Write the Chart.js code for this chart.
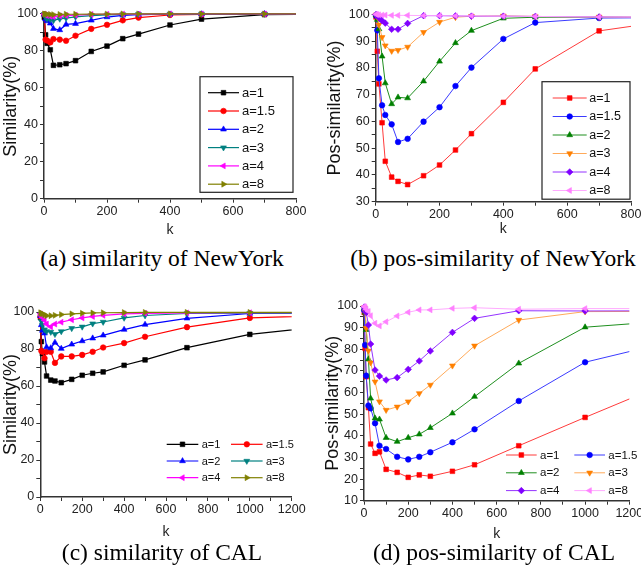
<!DOCTYPE html>
<html>
<head>
<meta charset="utf-8">
<script src="https://cdn.jsdelivr.net/npm/chart.js@4.4.1/dist/chart.umd.min.js"></script>
<style>
html, body { margin: 0; padding: 0; background: #fff; overflow: hidden; width: 641px; height: 567px; }
.panel { position: absolute; }
.cap { position: absolute; font-family: "Liberation Serif", "Times New Roman", serif; font-size: 23.5px; color: #000; white-space: nowrap; transform: translate(-50%, -50%); }
</style>
</head>
<body>
<div class="panel" style="left:0;top:0;width:320px;height:240px"><canvas id="chartA"></canvas></div>
<div class="panel" style="left:320px;top:0;width:330px;height:240px"><canvas id="chartB"></canvas></div>
<div class="panel" style="left:0;top:280px;width:320px;height:270px"><canvas id="chartC"></canvas></div>
<div class="panel" style="left:320px;top:280px;width:340px;height:270px"><canvas id="chartD"></canvas></div>
<div class="cap" style="left:162px;top:258px">(a) similarity of NewYork</div>
<div class="cap" style="left:493px;top:258px">(b) pos-similarity of NewYork</div>
<div class="cap" style="left:162px;top:552px">(c) similarity of CAL</div>
<div class="cap" style="left:494px;top:552px">(d) pos-similarity of CAL</div>
<script>
// k values (last point lies past the right edge of each axis)
const kNY = [1, 5, 10, 20, 30, 50, 70, 100, 150, 200, 250, 300, 400, 500, 700, 1000];
const kCAL = [1, 5, 10, 20, 30, 50, 70, 100, 150, 200, 250, 300, 400, 500, 700, 1000, 1500];
const seriesLabels = ['a=1', 'a=1.5', 'a=2', 'a=3', 'a=4', 'a=8'];

// (a) similarity of NewYork
const simNY_1  = [98, 88.6, 84, 80.5, 72.1, 72.4, 73.0, 74.6, 79.6, 82.5, 86.5, 89.0, 93.9, 97.1, 99.5, 99.9];
const simNY_15 = [99.6, 86, 85.5, 84.5, 86.3, 86, 85.4, 88.1, 91.8, 94, 96.4, 97.9, 99.3, 99.6, 99.8, 99.9];
const simNY_2  = [99.5, 97, 96, 94.8, 91.9, 91.2, 94.2, 94.6, 96.4, 98.2, 99.1, 99.5, 99.7, 99.8, 99.9, 99.9];
const simNY_3  = [99.7, 98, 97.2, 96.9, 96.4, 97.2, 97.6, 98.3, 99.0, 99.4, 99.6, 99.7, 99.8, 99.9, 99.9, 99.9];
const simNY_4  = [99.8, 99.2, 99, 98.6, 98.4, 98.8, 99, 99.2, 99.6, 99.7, 99.8, 99.8, 99.9, 99.9, 99.9, 99.9];
const simNY_8  = [99.9, 99.8, 99.7, 99.6, 99.5, 99.6, 99.7, 99.7, 99.8, 99.8, 99.9, 99.9, 99.9, 99.9, 99.9, 100];

// (b) pos-similarity of NewYork
const posNY_1  = [99, 86.2, 74.0, 59.5, 45.1, 39.2, 37.6, 36.4, 39.7, 43.7, 49.3, 55.4, 67.1, 79.6, 93.8, 98.9];
const posNY_15 = [99.5, 94, 76.1, 66.0, 62.4, 58.9, 52.3, 53.5, 59.9, 65.3, 73.2, 80.1, 90.8, 96.9, 98.6, 98.8];
const posNY_2  = [99.7, 98, 94.5, 84.3, 74.3, 66.5, 69.0, 68.7, 75.0, 82.4, 89.3, 93.9, 98.5, 98.9, 98.9, 98.7];
const posNY_3  = [99.8, 99, 96.1, 91.4, 88.3, 86.3, 86.6, 87.8, 93.3, 97.1, 98.9, 99.3, 99.4, 99.2, 99.0, 98.8];
const posNY_4  = [99.9, 99.5, 98.7, 97.6, 96.7, 94.4, 94.4, 96.6, 99.5, 99.5, 99.4, 99.3, 99.3, 99.2, 99.0, 98.8];
const posNY_8  = [100, 99.9, 99.8, 99.7, 99.7, 99.6, 99.6, 99.6, 99.5, 99.5, 99.4, 99.4, 99.3, 99.2, 99.0, 98.9];

// (c) similarity of CAL
const simCAL_1  = [97, 84, 77.5, 73, 65.4, 63.2, 62.7, 61.8, 63.6, 65.8, 66.9, 67.6, 71.2, 74.1, 80.7, 87.9, 93.9];
const simCAL_15 = [97.5, 79, 78.5, 75, 78.5, 78.5, 72.5, 76, 76, 76.8, 78.5, 80.8, 83.2, 86.6, 91.8, 96.8, 98.5];
const simCAL_2  = [98, 93, 90, 88.5, 81, 80.5, 83.5, 80.2, 82.5, 84.3, 85.8, 87.4, 90.5, 93.2, 96.6, 99.2, 99.5];
const simCAL_3  = [98.5, 95, 93, 90.5, 89.5, 89.2, 88, 89.5, 91.2, 92, 93.7, 94.6, 96.8, 98.1, 99.2, 99.4, 99.5];
const simCAL_4  = [99, 98, 97, 95.5, 93.5, 92, 93.5, 94.5, 95.8, 96.8, 97.6, 98.2, 99, 99.3, 99.5, 99.6, 99.6];
const simCAL_8  = [99.6, 99.3, 99, 98.5, 98, 98, 98.2, 98.6, 99, 99.3, 99.5, 99.6, 99.7, 99.8, 99.8, 99.8, 99.8];

// (d) pos-similarity of CAL
const posCAL_1  = [97, 80.4, 67.3, 53, 36.2, 31.9, 32.6, 24.5, 23.1, 20.8, 21.9, 21.3, 23.6, 26.6, 35.4, 48.5, 69.8];
const posCAL_15 = [98, 82, 67.8, 54, 52.7, 45.8, 35.4, 33.9, 30.3, 29.1, 30.3, 32.4, 37, 43, 56.1, 74, 86.3];
const posCAL_2  = [99, 97, 89, 75.4, 57.3, 48.1, 47.6, 39.1, 37.3, 39.1, 40.7, 43.7, 50.4, 58.1, 73.5, 90.2, 94];
const posCAL_3  = [99.3, 97.5, 89.7, 79.3, 73.8, 65, 55.8, 51.9, 53.4, 55.8, 59.6, 63.5, 72.4, 81.6, 93.5, 97.4, 97.6];
const posCAL_4  = [99.5, 98.5, 97, 91.2, 82.4, 70.4, 67.6, 65.8, 66.9, 70.7, 74.6, 79.2, 87.8, 94.3, 97.8, 97.7, 97.8];
const posCAL_8  = [99.8, 99.5, 98.5, 97.5, 95.5, 92, 90.8, 92.7, 95.4, 97.1, 98.2, 98.2, 98.9, 99.2, 98.5, 98.8, 98.8];

// tick labels
const xLabelsNY = [0, 200, 400, 600, 800];
const xLabelsCAL = [0, 200, 400, 600, 800, 1000, 1200];
const yLabelsSim = [0, 20, 40, 60, 80, 100];
const yLabelsPosNY = [30, 40, 50, 60, 70, 80, 90, 100];
const yLabelsPosCAL = [10, 20, 30, 40, 50, 60, 70, 80, 90, 100];

// styles
const FONT = '"Liberation Sans", Arial, sans-serif';
const simColors = ['#000000', '#ff0000', '#0000ff', '#008080', '#ff00ff', '#808000'];
const posColors = ['#ff0000', '#0000ff', '#008000', '#ff8000', '#8000ff', '#ff80ff'];
const posLineColors = ['#ff3b3b', '#3b3bff', '#1f8f1f', '#ffaa5a', '#9433ff', '#ffaaff'];
const simMarkers = [
    { style: 'rect', rot: 0, r: 3.3 },
    { style: 'circle', rot: 0, r: 2.8 },
    { style: 'triangle', rot: 0, r: 3.4 },
    { style: 'triangle', rot: 180, r: 3.4 },
    { style: 'triangle', rot: -90, r: 3.4 },
    { style: 'triangle', rot: 90, r: 3.4 }
];
const posMarkers = [
    { style: 'rect', rot: 0, r: 3.3 },
    { style: 'circle', rot: 0, r: 2.8 },
    { style: 'triangle', rot: 0, r: 3.4 },
    { style: 'triangle', rot: 180, r: 3.4 },
    { style: 'rectRot', rot: 0, r: 3.3 },
    { style: 'triangle', rot: -90, r: 3.4 }
];

// legend with line + marker samples
const lineLegend = {
    id: 'lineLegend',
    afterDatasetsDraw(chart, args, o) {
        const ctx = chart.ctx;
        ctx.save();
        if (o.box) {
            ctx.fillStyle = '#fff';
            ctx.fillRect(o.box[0], o.box[1], o.box[2], o.box[3]);
            ctx.strokeStyle = '#222';
            ctx.lineWidth = 1.2;
            ctx.strokeRect(o.box[0], o.box[1], o.box[2], o.box[3]);
        }
        chart.data.datasets.forEach((ds, i) => {
            const col = i % o.cols, row = Math.floor(i / o.cols);
            const x0 = o.x + col * o.colStep;
            const y = o.y + row * o.rowStep;
            ctx.strokeStyle = ds.borderColor;
            ctx.lineWidth = ds.borderWidth;
            ctx.beginPath();
            ctx.moveTo(x0, y);
            ctx.lineTo(x0 + o.len, y);
            ctx.stroke();
            ctx.fillStyle = ds.pointBackgroundColor;
            ctx.strokeStyle = ds.pointBorderColor;
            ctx.lineWidth = ds.pointBorderWidth;
            Chart.helpers.drawPoint(ctx, {
                pointStyle: ds.pointStyle, rotation: ds.pointRotation,
                radius: ds.pointRadius, borderWidth: ds.pointBorderWidth
            }, x0 + o.len / 2, y);
            ctx.fillStyle = '#111';
            ctx.font = o.fontSize + 'px ' + FONT;
            ctx.textBaseline = 'middle';
            ctx.textAlign = 'left';
            ctx.fillText(ds.label, x0 + o.len + o.gap, y + 0.5);
        });
        ctx.restore();
    }
};

function makeChart(id, cfg) {
    const datasets = cfg.series.map((vals, i) => ({
        label: seriesLabels[i],
        data: cfg.k.map((x, j) => ({ x: x, y: vals[j] })),
        borderColor: cfg.lineColors[i],
        borderWidth: cfg.lineWidth,
        pointBackgroundColor: cfg.colors[i],
        pointBorderColor: cfg.colors[i],
        pointBorderWidth: 0.6,
        pointStyle: cfg.markers[i].style,
        pointRotation: cfg.markers[i].rot,
        pointRadius: cfg.markers[i].r,
        tension: 0,
        order: -i,
        clip: { left: 6, top: 6, right: 0, bottom: 0 }
    }));
    const tickFont = { family: FONT, size: 12.5 };
    return new Chart(document.getElementById(id), {
        type: 'line',
        data: { datasets: datasets },
        plugins: [lineLegend],
        options: {
            responsive: true,
            maintainAspectRatio: false,
            animation: false,
            events: [],
            layout: { padding: cfg.pad },
            plugins: {
                legend: { display: false },
                tooltip: { enabled: false },
                lineLegend: cfg.legend
            },
            scales: {
                x: {
                    type: 'linear',
                    min: 0, max: cfg.xMax,
                    afterFit: s => { s.height = cfg.xH; },
                    ticks: {
                        stepSize: 100, autoSkip: false, maxRotation: 0, padding: 1,
                        color: '#222', font: tickFont,
                        callback: v => cfg.xLabels.includes(v) ? String(v) : ''
                    },
                    grid: { drawOnChartArea: false, drawTicks: true, tickLength: 4, tickColor: '#333', tickWidth: 1 },
                    border: { display: true, color: '#333', width: 1.5 },
                    title: { display: true, text: 'k', color: '#222', font: { family: FONT, size: 14 }, padding: { top: 0, bottom: cfg.kPad } }
                },
                y: {
                    min: cfg.yMin, max: 100,
                    afterFit: s => { s.width = cfg.yW; },
                    ticks: {
                        stepSize: cfg.yStep, autoSkip: false, padding: 2,
                        color: '#222', font: tickFont,
                        callback: v => cfg.yLabels.includes(v) ? String(v) : ''
                    },
                    grid: { drawOnChartArea: false, drawTicks: true, tickLength: 4, tickColor: '#333', tickWidth: 1 },
                    border: { display: true, color: '#333', width: 1.5 },
                    title: { display: true, text: cfg.yTitle, color: '#111', font: { family: FONT, size: 18 }, padding: { top: cfg.titlePad, bottom: 0 } }
                }
            }
        }
    });
}

makeChart('chartA', {
    k: kNY, series: [simNY_1, simNY_15, simNY_2, simNY_3, simNY_4, simNY_8],
    colors: simColors, lineColors: simColors, markers: simMarkers, lineWidth: 1.2,
    xMax: 800, xLabels: xLabelsNY, yMin: 0, yStep: 10, yLabels: yLabelsSim,
    yTitle: 'Similarity(%)', titlePad: 0, kPad: 1.6,
    pad: { top: 13.7, right: 24, bottom: 0, left: 0 }, yW: 44, xH: 41.3,
    legend: { box: [200, 76.7, 93, 115.6], x: 208, y: 92.7, rowStep: 18.3, cols: 1, colStep: 0, len: 31, gap: 3, fontSize: 13 }
});

makeChart('chartB', {
    k: kNY, series: [posNY_1, posNY_15, posNY_2, posNY_3, posNY_4, posNY_8],
    colors: posColors, lineColors: posLineColors, markers: posMarkers, lineWidth: 1,
    xMax: 800, xLabels: xLabelsNY, yMin: 30, yStep: 5, yLabels: yLabelsPosNY,
    yTitle: 'Pos-similarity(%)', titlePad: 4.7, kPad: 2.3,
    pad: { top: 14.3, right: 19, bottom: 0, left: 0 }, yW: 55.7, xH: 38.3,
    legend: { box: [222, 81.7, 88, 117.5], x: 232.7, y: 98, rowStep: 18.5, cols: 1, colStep: 0, len: 34, gap: 2.6, fontSize: 12.5 }
});

makeChart('chartC', {
    k: kCAL, series: [simCAL_1, simCAL_15, simCAL_2, simCAL_3, simCAL_4, simCAL_8],
    colors: simColors, lineColors: simColors, markers: simMarkers, lineWidth: 1.2,
    xMax: 1200, xLabels: xLabelsCAL, yMin: 0, yStep: 10, yLabels: yLabelsSim,
    yTitle: 'Similarity(%)', titlePad: 0, kPad: 9.6,
    pad: { top: 32, right: 28.3, bottom: 0, left: 0 }, yW: 40.3, xH: 53,
    legend: { box: null, x: 166.7, y: 164.3, rowStep: 16.7, cols: 2, colStep: 64.3, len: 31.6, gap: 3.4, fontSize: 11 }
});

makeChart('chartD', {
    k: kCAL, series: [posCAL_1, posCAL_15, posCAL_2, posCAL_3, posCAL_4, posCAL_8],
    colors: posColors, lineColors: posLineColors, markers: posMarkers, lineWidth: 1,
    xMax: 1200, xLabels: xLabelsCAL, yMin: 10, yStep: 5, yLabels: yLabelsPosCAL,
    yTitle: 'Pos-similarity(%)', titlePad: 2.5, kPad: 7.2,
    pad: { top: 26, right: 30.7, bottom: 0, left: 0 }, yW: 44, xH: 49.3,
    legend: { box: null, x: 186, y: 175, rowStep: 17.8, cols: 2, colStep: 68.3, len: 30.7, gap: 3.3, fontSize: 11.5 }
});
</script>
</body>
</html>
